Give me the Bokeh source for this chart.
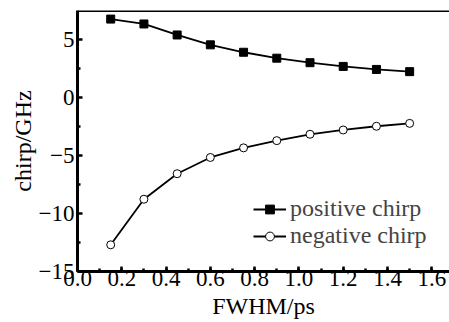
from bokeh.plotting import figure
from bokeh.models import Range1d, Legend, LegendItem, FixedTicker, PrintfTickFormatter, Span
from bokeh.embed import file_html
from bokeh.resources import INLINE

fwhm = [0.15, 0.30, 0.45, 0.60, 0.75, 0.90, 1.05, 1.20, 1.35, 1.50]
positive_chirp = [6.76, 6.34, 5.39, 4.54, 3.90, 3.39, 3.00, 2.68, 2.42, 2.23]
negative_chirp = [-12.70, -8.77, -6.57, -5.17, -4.34, -3.72, -3.17, -2.80, -2.48, -2.23]
x_ticks = [0.0, 0.2, 0.4, 0.6, 0.8, 1.0, 1.2, 1.4, 1.6]
y_ticks = [-15, -10, -5, 0, 5]
y_tick_labels = {-15: "\u221215", -10: "\u221210", -5: "\u22125", 0: "0", 5: "5"}

FONT = "Liberation Serif"

p = figure(width=449, height=322, output_backend="svg", toolbar_location=None,
           x_range=Range1d(0, 1.68), y_range=Range1d(-15, 7.5),
           min_border_left=77, min_border_right=0, min_border_top=10, min_border_bottom=51,
           x_axis_label="FWHM/ps", y_axis_label="chirp/GHz")
p.outline_line_color = None
p.grid.visible = False
p.background_fill_color = "white"
p.border_fill_color = "white"

for ax in (p.xaxis[0], p.yaxis[0]):
    ax.axis_line_width = 3
    ax.axis_line_color = "black"
    ax.major_tick_in = 5
    ax.major_tick_out = 0
    ax.minor_tick_in = 3
    ax.minor_tick_out = 0
    ax.major_tick_line_width = 2.5
    ax.minor_tick_line_width = 2.5
    ax.major_label_text_font = FONT
    ax.major_label_text_font_size = "23px"
    ax.major_label_text_color = "black"
    ax.axis_label_text_font = FONT
    ax.axis_label_text_font_size = "24px"
    ax.axis_label_text_font_style = "normal"
    ax.axis_label_text_color = "black"

p.xaxis[0].ticker = FixedTicker(ticks=x_ticks, minor_ticks=[i / 10 for i in range(0, 17)])
p.xaxis[0].formatter = PrintfTickFormatter(format="%.1f")
p.xaxis[0].major_label_standoff = -1
p.xaxis[0].axis_label_standoff = 4
p.yaxis[0].ticker = FixedTicker(ticks=y_ticks, minor_ticks=[-12.5, -7.5, -2.5, 2.5])
p.yaxis[0].major_label_overrides = y_tick_labels
p.yaxis[0].major_label_standoff = 3
p.yaxis[0].axis_label_standoff = 0

p.add_layout(Span(location=7.5, dimension="width", line_color="black", line_width=3))

l1 = p.line(fwhm, positive_chirp, line_color="black", line_width=1.8)
s1 = p.scatter(fwhm, positive_chirp, marker="square", size=8, fill_color="black", line_color="black")
l2 = p.line(fwhm, negative_chirp, line_color="black", line_width=1.8)
s2 = p.scatter(fwhm, negative_chirp, marker="circle", size=8, fill_color="white", line_color="black", line_width=1)

legend = Legend(items=[LegendItem(label="positive chirp", renderers=[l1, s1]),
                       LegendItem(label="negative chirp", renderers=[l2, s2])],
                location=(176, 22), border_line_color=None, background_fill_alpha=0,
                label_text_font=FONT, label_text_font_size="24px", label_standoff=4,
                glyph_width=33, glyph_height=22, label_height=22, spacing=-5,
                padding=0, margin=0)
p.add_layout(legend)

open("out.html", "w").write(file_html(p, INLINE))
